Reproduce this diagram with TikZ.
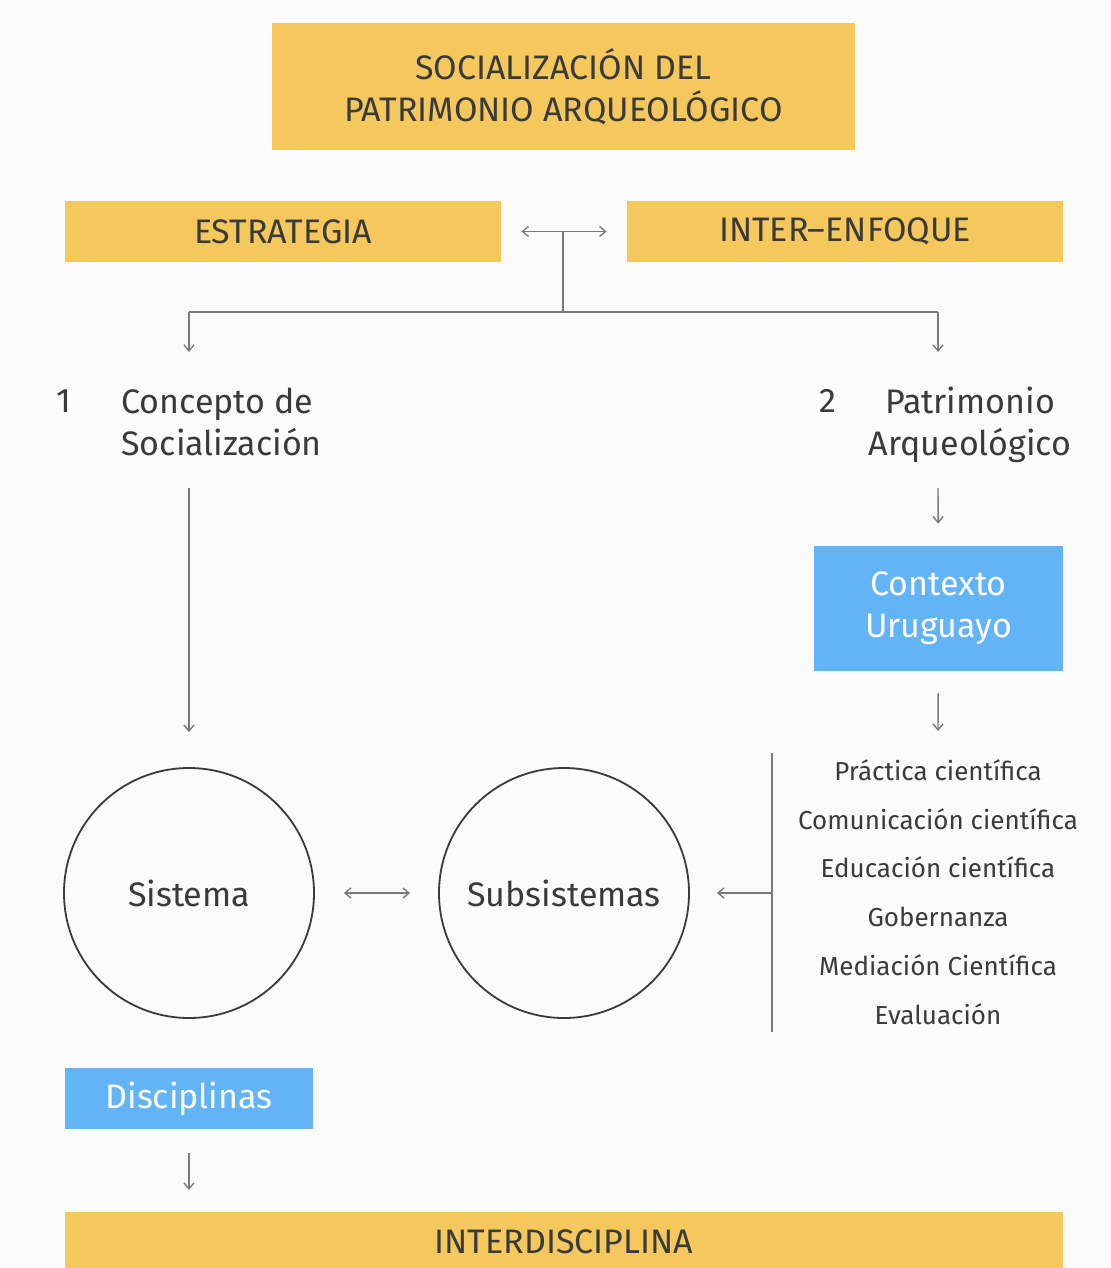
\documentclass[tikz,border=0pt]{standalone}
\usepackage{fontspec}
\setmainfont{Fira Sans}
\usepackage{xcolor}
\usepackage{tikz}
\usetikzlibrary{arrows.meta}
\usetikzlibrary{positioning}
\definecolor{amarillo}{HTML}{F5C85E}
\definecolor{celeste}{HTML}{62B4F7}
\definecolor{texto}{HTML}{3A3A3A}
\definecolor{linea}{HTML}{7A7A7A}
\definecolor{fondo}{HTML}{FBFBFB}

\begin{document}
\begin{tikzpicture}[x=0.5pt, y=-0.5pt,
        caja/.style={rectangle, fill=amarillo, text=texto, inner sep=0pt, align=center, font=\fontsize{17}{21}\selectfont},
        cajaazul/.style={rectangle, fill=celeste, text=white, inner sep=0pt, align=center, font=\fontsize{17}{21}\selectfont},
        circulo/.style={circle, draw=texto, line width=0.9pt, minimum size=125pt, inner sep=0pt, text=texto, font=\fontsize{17}{21}\selectfont},
        rotulo/.style={text=texto, inner sep=0pt, font=\fontsize{17}{21}\selectfont},
        flecha/.style={draw=linea, line width=0.7pt, -{Straight Barb[length=3pt, width=5pt]}},
        linea/.style={draw=linea, line width=0.7pt}]
        \fill [fondo] (0, 0) rectangle (1110, 1268);
        \useasboundingbox (0, 0) rectangle (1110, 1268);
        % cajas
        \node (titulo) at (563.5, 86.5) [caja, minimum width=291.5pt, minimum height=63.5pt] {SOCIALIZACIÓN DEL\\PATRIMONIO ARQUEOLÓGICO};
        \node (estrategia) at (283, 231.5) [caja, minimum width=218pt, minimum height=30.5pt] {ESTRATEGIA};
        \node (enfoque) at (845, 231.5) [caja, minimum width=218pt, minimum height=30.5pt] {INTER–ENFOQUE};
        \node (contexto) at (938.5, 608.5) [cajaazul, minimum width=124.5pt, minimum height=62.5pt] {Contexto\\Uruguayo};
        \node (disciplinas) at (189, 1098.5) [cajaazul, minimum width=124pt, minimum height=30.5pt] {Disciplinas};
        \node (interdisciplina) at (564, 1242) [caja, minimum width=499pt, minimum height=30pt] {INTERDISCIPLINA};
        % rotulos
        \node (uno) at (64, 401) [rotulo] {1};
        \node (concepto) at (121, 422) [rotulo, anchor=west, align=left] {Concepto de\\Socialización};
        \node (dos) at (828, 401) [rotulo] {2};
        \node (patrimonio) at (970, 425) [rotulo, align=center] {Patrimonio\\Arqueológico};
        \node (lista) at (938, 892) [rotulo, align=center, font=\fontsize{13}{24.4}\selectfont] {Práctica científica\\Comunicación científica\\Educación científica\\Gobernanza\\Mediación Científica\\Evaluación};
        % circulos
        \node (sistema) at (189, 893) [circulo] {Sistema};
        \node (subsistemas) at (564, 893) [circulo] {Subsistemas};
        % puntos de paso
        \coordinate (ta) at (563, 231.5);
        \coordinate (tb) at (563, 312);
        \coordinate (izq) at (189, 312);
        \coordinate (der) at (938, 312);
        \coordinate (izqb) at (189, 352);
        \coordinate (derb) at (938, 352);
        \coordinate (concb) at (189, 488);
        \coordinate (patb) at (938, 488);
        \coordinate (listaa) at (938, 731);
        \coordinate (barraa) at (772, 753);
        \coordinate (barrab) at (772, 1032);
        \coordinate (barram) at (772, 893);
        \coordinate (interb) at (189, 1212);
        % conectores
        \draw [flecha, {Straight Barb[length=3pt, width=5pt]}-{Straight Barb[length=3pt, width=5pt]}, shorten <=10pt, shorten >=10pt] (estrategia) -- (enfoque);
        \draw [linea] (ta) -- (tb);
        \draw [linea] (izq) -- (der);
        \draw [flecha] (izq) -- (izqb);
        \draw [flecha] (der) -- (derb);
        \draw [flecha, shorten >=17.5pt] (concb) -- (sistema);
        \draw [flecha, shorten >=11pt] (patb) -- (contexto);
        \draw [flecha, shorten <=11pt] (contexto) -- (listaa);
        \draw [linea] (barraa) -- (barrab);
        \draw [flecha, shorten >=13.5pt] (barram) -- (subsistemas);
        \draw [flecha, {Straight Barb[length=3pt, width=5pt]}-{Straight Barb[length=3pt, width=5pt]}, shorten <=14.5pt, shorten >=14pt] (sistema) -- (subsistemas);
        \draw [flecha, shorten <=12pt, shorten >=11pt] (disciplinas) -- (interb);
    \end{tikzpicture}
\end{document}
